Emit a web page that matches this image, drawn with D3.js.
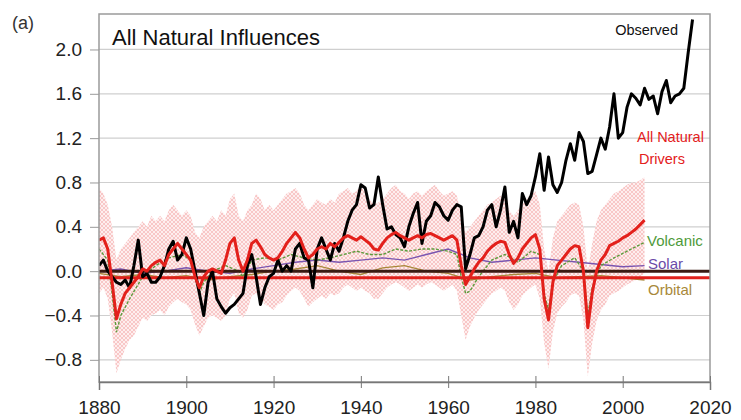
<!DOCTYPE html>
<html><head><meta charset="utf-8">
<script src="https://cdn.jsdelivr.net/npm/d3@7"></script>
<style>
html,body{margin:0;padding:0;background:#fff;}
svg{display:block;}
text{font-family:"Liberation Sans","Arial",sans-serif;}
</style></head>
<body>
<svg id="chart" width="741" height="420"></svg>
<script>
// ---------- DATA ----------
const obsYears = d3.range(1880, 2017);
const obsValues = [
 0.05,0.10,0.00,-0.05,-0.10,-0.12,-0.08,-0.15,0.05,0.28,
 -0.05,-0.02,-0.10,-0.10,-0.05,0.05,0.20,0.27,0.10,0.15,
 0.30,0.20,0.00,-0.20,-0.40,-0.10,0.00,-0.25,-0.32,-0.38,
 -0.33,-0.30,-0.25,-0.20,0.05,0.15,-0.05,-0.30,-0.15,-0.05,
 -0.02,0.10,0.00,0.05,0.00,0.20,0.25,0.12,0.10,-0.15,
 0.20,0.30,0.20,0.10,0.25,0.18,0.30,0.45,0.55,0.60,
 0.78,0.75,0.57,0.60,0.85,0.60,0.38,0.40,0.33,0.30,
 0.22,0.40,0.52,0.62,0.25,0.45,0.50,0.62,0.58,0.50,
 0.46,0.55,0.60,0.58,0.02,0.15,0.30,0.32,0.40,0.55,
 0.60,0.40,0.55,0.76,0.35,0.45,0.30,0.70,0.60,0.68,
 0.85,1.06,0.73,1.03,0.78,0.71,0.80,1.00,1.15,1.00,
 1.25,1.17,0.88,0.90,1.05,1.20,1.10,1.30,1.60,1.20,
 1.25,1.48,1.60,1.56,1.50,1.65,1.55,1.58,1.42,1.62,
 1.72,1.52,1.58,1.60,1.65,1.97,2.27
];

const modelYears = d3.range(1880, 2006);
const naturalValues = [
 0.28,0.30,0.20,-0.10,-0.43,-0.30,-0.20,-0.15,-0.10,-0.05,
 0.02,0.00,0.05,0.08,0.10,0.05,0.15,0.20,0.25,0.20,
 0.15,0.10,-0.05,-0.15,-0.05,0.00,0.02,0.00,-0.02,0.10,
 0.25,0.30,0.10,0.00,0.10,0.25,0.28,0.22,0.15,0.12,
 0.10,0.12,0.18,0.25,0.30,0.35,0.30,0.20,0.12,0.15,
 0.20,0.22,0.20,0.25,0.22,0.26,0.30,0.32,0.30,0.28,
 0.31,0.28,0.25,0.20,0.19,0.25,0.30,0.33,0.35,0.32,
 0.30,0.28,0.30,0.32,0.30,0.33,0.34,0.32,0.30,0.28,
 0.30,0.32,0.28,0.05,-0.12,-0.05,0.02,0.08,0.12,0.18,
 0.22,0.25,0.27,0.26,0.15,0.07,0.12,0.20,0.25,0.30,
 0.33,0.20,-0.25,-0.44,-0.10,0.05,0.10,0.15,0.20,0.23,
 0.22,0.00,-0.51,-0.20,0.00,0.10,0.15,0.23,0.25,0.27,
 0.30,0.32,0.35,0.38,0.42,0.46
];
const bandUpper = [
 0.75,0.70,0.60,0.40,0.10,0.20,0.25,0.30,0.35,0.40,
 0.45,0.40,0.50,0.45,0.50,0.45,0.55,0.60,0.55,0.50,
 0.55,0.50,0.35,0.30,0.40,0.45,0.50,0.45,0.55,0.50,
 0.65,0.70,0.50,0.45,0.55,0.60,0.70,0.65,0.55,0.60,
 0.55,0.60,0.65,0.70,0.72,0.75,0.70,0.60,0.55,0.60,
 0.65,0.62,0.60,0.65,0.62,0.70,0.72,0.75,0.70,0.72,
 0.78,0.70,0.65,0.60,0.62,0.65,0.70,0.75,0.78,0.72,
 0.70,0.65,0.70,0.72,0.68,0.72,0.75,0.78,0.72,0.68,
 0.70,0.72,0.68,0.50,0.35,0.40,0.45,0.50,0.55,0.60,
 0.62,0.65,0.68,0.65,0.55,0.50,0.55,0.60,0.65,0.70,
 0.72,0.60,0.20,0.00,0.30,0.45,0.50,0.55,0.60,0.62,
 0.60,0.40,0.00,0.25,0.45,0.55,0.60,0.65,0.70,0.72,
 0.75,0.78,0.80,0.80,0.82,0.85
];
const bandLower = [
 -0.20,-0.15,-0.25,-0.55,-0.92,-0.80,-0.70,-0.62,-0.58,-0.50,
 -0.42,-0.45,-0.40,-0.38,-0.35,-0.40,-0.32,-0.28,-0.25,-0.28,
 -0.30,-0.35,-0.48,-0.58,-0.50,-0.42,-0.40,-0.42,-0.45,-0.40,
 -0.25,-0.20,-0.38,-0.42,-0.35,-0.22,-0.20,-0.25,-0.30,-0.32,
 -0.35,-0.30,-0.28,-0.22,-0.18,-0.15,-0.18,-0.25,-0.32,-0.28,
 -0.25,-0.22,-0.25,-0.20,-0.22,-0.20,-0.15,-0.12,-0.15,-0.18,
 -0.15,-0.18,-0.20,-0.25,-0.25,-0.20,-0.15,-0.12,-0.10,-0.12,
 -0.15,-0.18,-0.15,-0.12,-0.15,-0.12,-0.10,-0.12,-0.15,-0.18,
 -0.15,-0.12,-0.18,-0.40,-0.62,-0.50,-0.42,-0.35,-0.30,-0.25,
 -0.20,-0.18,-0.15,-0.18,-0.28,-0.35,-0.30,-0.22,-0.18,-0.15,
 -0.12,-0.25,-0.65,-0.88,-0.55,-0.38,-0.32,-0.28,-0.22,-0.20,
 -0.22,-0.45,-0.95,-0.65,-0.45,-0.35,-0.30,-0.22,-0.20,-0.18,
 -0.15,-0.12,-0.10,-0.08,-0.05,-0.02
];

const volcYears = [1880,1882,1883,1884,1885,1887,1890,1893,1896,1899,1901,1902,1903,1904,1906,1909,1912,1913,1915,1918,1921,1924,1927,1930,1933,1936,1939,1942,1945,1948,1951,1954,1957,1960,1962,1963,1964,1965,1967,1970,1973,1976,1979,1981,1982,1983,1984,1986,1989,1991,1992,1993,1995,1998,2001,2003,2005];
const volcValues = [0.20,0.10,-0.20,-0.55,-0.40,-0.25,-0.05,0.05,0.12,0.15,0.10,-0.05,-0.20,-0.10,0.00,0.05,0.00,-0.05,0.10,0.12,0.10,0.15,0.12,0.10,0.12,0.15,0.18,0.15,0.15,0.20,0.18,0.20,0.20,0.18,0.15,-0.05,-0.20,-0.18,-0.05,0.10,0.15,0.08,0.18,0.15,-0.20,-0.35,-0.10,0.05,0.12,0.00,-0.40,-0.15,0.05,0.12,0.18,0.22,0.26];

const slowYears = d3.range(1880, 2006, 5);
const solarValues = [0.00,0.02,-0.02,0.00,0.03,0.00,-0.02,0.02,0.05,0.08,0.10,0.08,0.10,0.12,0.10,0.15,0.20,0.12,0.08,0.10,0.12,0.10,0.08,0.06,0.04,0.05];
const orbitalValues = [-0.02,-0.05,-0.03,-0.06,-0.04,-0.08,-0.05,-0.03,0.00,0.02,0.05,0.00,-0.03,0.03,0.05,0.00,-0.02,-0.08,-0.05,-0.03,-0.02,-0.06,-0.05,-0.04,-0.06,-0.08];

const yTicks = [-0.8,-0.4,0.0,0.4,0.8,1.2,1.6,2.0];
const xTicks = [1880,1900,1920,1940,1960,1980,2000,2020];
const baseLevels = [0.0, -0.06];

// ---------- LAYOUT ----------
const svg = d3.select("#chart");
const L = 99, R = 710, T = 14, B = 382;
const x = d3.scaleLinear().domain([1880, 2020]).range([L, R]);
const y = d3.scaleLinear().domain([-1.0, 2.32]).range([B, T]);

// pattern for band
const defs = svg.append("defs");
const pat = defs.append("pattern").attr("id","hatch").attr("patternUnits","userSpaceOnUse")
  .attr("width",4).attr("height",4);
pat.append("rect").attr("width",4).attr("height",4).attr("fill","#feeeee");
pat.append("path").attr("d","M0,0 L4,4 M4,0 L0,4").attr("stroke","#f6bcbc").attr("stroke-width",0.8);
defs.append("clipPath").attr("id","clip").append("rect").attr("x",L).attr("y",T).attr("width",R-L).attr("height",B-T);

// gridlines
svg.append("g").selectAll("line").data(yTicks).join("line")
  .attr("x1",L).attr("x2",R).attr("y1",d=>y(d)).attr("y2",d=>y(d))
  .attr("stroke","#cfcfcf").attr("stroke-width",1.2);

const plot = svg.append("g").attr("clip-path","url(#clip)");

// band
plot.append("path")
  .datum(modelYears.map((yr,i)=>[yr,bandLower[i],bandUpper[i]]))
  .attr("fill","url(#hatch)")
  .attr("d", d3.area().x(d=>x(d[0])).y0(d=>y(d[1])).y1(d=>y(d[2])));

const line = d3.line().x(d=>x(d[0])).y(d=>y(d[1]));

// orbital, solar, volcanic
plot.append("path").datum(slowYears.map((yr,i)=>[yr,orbitalValues[i]]))
  .attr("d",line).attr("fill","none").attr("stroke","#a8893a").attr("stroke-width",1.4);
plot.append("path").datum(slowYears.map((yr,i)=>[yr,solarValues[i]]))
  .attr("d",line).attr("fill","none").attr("stroke","#7a55b0").attr("stroke-width",1.4);
plot.append("path").datum(volcYears.map((yr,i)=>[yr,volcValues[i]]))
  .attr("d",line).attr("fill","none").attr("stroke","#5d9a3c").attr("stroke-width",1.4).attr("stroke-dasharray","3,1.5");

// base lines
plot.append("line").attr("x1",L).attr("x2",R).attr("y1",y(baseLevels[1])).attr("y2",y(baseLevels[1]))
  .attr("stroke","#e0201b").attr("stroke-width",3);
plot.append("line").attr("x1",L).attr("x2",R).attr("y1",y(baseLevels[0])).attr("y2",y(baseLevels[0]))
  .attr("stroke","#3a1a12").attr("stroke-width",3);

// observed
plot.append("path").datum(obsYears.map((yr,i)=>[yr,obsValues[i]]))
  .attr("d",line).attr("fill","none").attr("stroke","#000").attr("stroke-width",3).attr("stroke-linejoin","round");
// all natural
plot.append("path").datum(modelYears.map((yr,i)=>[yr,naturalValues[i]]))
  .attr("d",line).attr("fill","none").attr("stroke","#e3201b").attr("stroke-width",3).attr("stroke-linejoin","round");

// frame
svg.append("rect").attr("x",L).attr("y",T).attr("width",R-L).attr("height",B-T)
  .attr("fill","none").attr("stroke","#9a9a9a").attr("stroke-width",1.5);

// axes
const yAxis = d3.axisLeft(y).tickValues(yTicks).tickSize(9).tickPadding(8)
  .tickFormat(d=>d3.format(".1f")(d).replace("-","\u2212"));
const gy = svg.append("g").attr("transform",`translate(${L},0)`).call(yAxis);
gy.select(".domain").remove();
gy.selectAll("line").attr("stroke","#9a9a9a");
gy.selectAll("text").attr("font-size",19).attr("fill","#222");

const xAxis = d3.axisBottom(x).tickValues(xTicks).tickSize(8).tickPadding(11).tickFormat(d3.format("d"));
const gx = svg.append("g").attr("transform",`translate(0,${B})`).call(xAxis);
gx.select(".domain").attr("stroke","#777").attr("stroke-width",1.5);
gx.selectAll(".tick line").attr("y1",-6).attr("y2",6).attr("stroke","#777");
gx.selectAll("text").attr("font-size",19).attr("fill","#222");

// texts
svg.append("text").attr("x",12).attr("y",29).attr("font-size",18).attr("fill","#333").text("(a)");
svg.append("text").attr("x",112).attr("y",45).attr("font-size",22).attr("fill","#111").text("All Natural Influences");
const lab = (t,xx,yy,c,size,anchor)=>svg.append("text").attr("x",xx).attr("y",yy).attr("font-size",size)
  .attr("fill",c).attr("text-anchor",anchor||"start").text(t);
lab("Observed",678,35,"#111",14.5,"end");
lab("All Natural",637,142,"#e3201b",14.5);
lab("Drivers",639,164,"#e3201b",14.5);
lab("Volcanic",647,246,"#4e9a3a",15);
lab("Solar",648,269,"#6a4ba8",15);
lab("Orbital",648,295,"#a8893a",15);
</script>
</body></html>
